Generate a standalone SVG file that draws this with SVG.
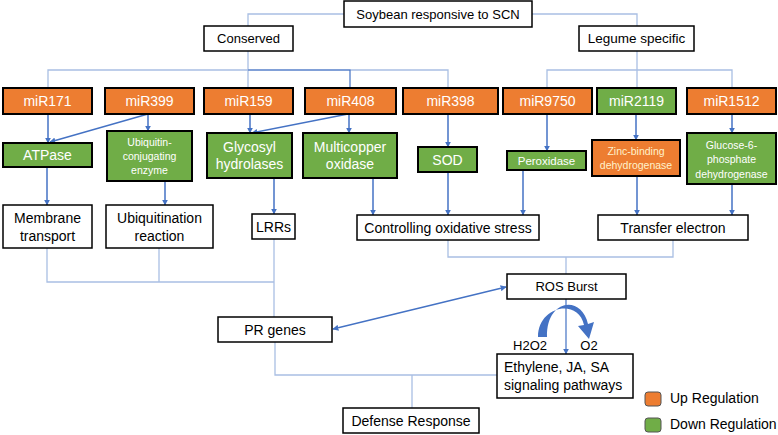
<svg xmlns="http://www.w3.org/2000/svg" width="778" height="435" viewBox="0 0 778 435">
<defs>
<style>
text{font-family:"Liberation Sans",Arial,sans-serif;text-anchor:middle;dominant-baseline:central}
.w{fill:#fff;stroke:#000;stroke-width:1.5}
.o{fill:#ED7D31;stroke:#000;stroke-width:2}
.g{fill:#70AD47;stroke:#000;stroke-width:2}
.t{font-size:13px;fill:#000}
.b{font-size:14px;fill:#000}
.m{font-size:14px;fill:#fff}
.s{font-size:10.5px;fill:#fff}
.lt{fill:none;stroke:#A9BFE3;stroke-width:1.3}
.dk{fill:none;stroke:#4472C4;stroke-width:1.5}
</style>
<marker id="ah" viewBox="0 0 10 10" refX="9" refY="5" markerWidth="6" markerHeight="6" orient="auto-start-reverse" markerUnits="userSpaceOnUse">
<path d="M0,0 L10,5 L0,10 z" fill="#4472C4"/>
</marker>
</defs>
<rect width="778" height="435" fill="#fff"/>

<g id="connectors">
<polyline class="lt" points="344,14 248,14 248,26"/>
<polyline class="lt" points="532,14 637,14 637,26"/>
<polyline class="lt" points="248,51 248,88"/>
<polyline class="lt" points="48,88 48,70 448,70 448,88"/>
<polyline class="dk" points="248,70 350,70 350,88" style="stroke-width:1.2"/>
<polyline class="lt" points="637,51 637,88"/>
<polyline class="lt" points="547,88 547,70 732,70 732,88"/>
<line class="dk" x1="48" y1="114" x2="48" y2="143" marker-end="url(#ah)"/>
<line class="dk" x1="148" y1="114" x2="50" y2="142" marker-end="url(#ah)"/>
<line class="dk" x1="148" y1="114" x2="148" y2="131" marker-end="url(#ah)"/>
<line class="dk" x1="250" y1="114" x2="250" y2="133" marker-end="url(#ah)"/>
<line class="dk" x1="348" y1="114" x2="252" y2="133" marker-end="url(#ah)"/>
<line class="dk" x1="349" y1="114" x2="349" y2="133" marker-end="url(#ah)"/>
<line class="dk" x1="448" y1="114" x2="448" y2="147" marker-end="url(#ah)"/>
<line class="dk" x1="547" y1="114" x2="547" y2="151" marker-end="url(#ah)"/>
<line class="dk" x1="636" y1="114" x2="636" y2="140" marker-end="url(#ah)"/>
<line class="dk" x1="732" y1="114" x2="732" y2="133" marker-end="url(#ah)"/>
<line class="dk" x1="47" y1="167" x2="47" y2="205" marker-end="url(#ah)"/>
<line class="dk" x1="165" y1="181" x2="165" y2="205" marker-end="url(#ah)"/>
<line class="dk" x1="274" y1="178" x2="274" y2="214" marker-end="url(#ah)"/>
<line class="dk" x1="373" y1="178" x2="373" y2="215" marker-end="url(#ah)"/>
<line class="dk" x1="448" y1="172" x2="448" y2="215" marker-end="url(#ah)"/>
<line class="dk" x1="523" y1="170" x2="523" y2="215" marker-end="url(#ah)"/>
<line class="dk" x1="637" y1="176" x2="637" y2="215" marker-end="url(#ah)"/>
<line class="dk" x1="732" y1="184" x2="732" y2="215" marker-end="url(#ah)"/>
<polyline class="lt" points="47,248 47,282 274,282"/>
<line class="lt" x1="159" y1="248" x2="159" y2="282"/>
<line class="lt" x1="274" y1="239" x2="274" y2="317"/>
<polyline class="lt" points="448,240 448,257 673,257 673,240"/>
<line class="lt" x1="566" y1="257" x2="566" y2="274"/>
<polyline class="lt" points="275,342 275,375 497,375"/>
<line class="lt" x1="412" y1="375" x2="412" y2="408"/>
<line class="dk" x1="333" y1="329" x2="506" y2="287" marker-start="url(#ah)" marker-end="url(#ah)" style="stroke-width:1.3"/>
<line class="dk" x1="566" y1="299" x2="566" y2="354" marker-end="url(#ah)" style="stroke-width:1.2"/>
<path d="M538,337 C538,306 578,298 584,325 L578,326 L589,339 L594,322 L588,324 C581,294 546,300 547,337 Z" fill="#4472C4"/>
</g>

<g id="n-soybean"><rect class="w" x="344" y="1" width="188" height="26"/><text class="t" x="438" y="14">Soybean responsive to SCN</text></g>
<g id="n-conserved"><rect class="w" x="204" y="26" width="89" height="25"/><text class="t" x="248.5" y="38.5">Conserved</text></g>
<g id="n-legume"><rect class="w" x="579" y="26" width="115" height="25"/><text class="t" x="636.5" y="38.5" style="font-size:13.5px">Legume specific</text></g>

<g id="n-miR171"><rect class="o" x="3" y="88" width="89" height="26"/><text class="m" x="47.5" y="101">miR171</text></g>
<g id="n-miR399"><rect class="o" x="105" y="88" width="89" height="26"/><text class="m" x="149.5" y="101">miR399</text></g>
<g id="n-miR159"><rect class="o" x="204" y="88" width="89" height="26"/><text class="m" x="248.5" y="101">miR159</text></g>
<g id="n-miR408"><rect class="o" x="305" y="88" width="91" height="26"/><text class="m" x="350.5" y="101">miR408</text></g>
<g id="n-miR398"><rect class="o" x="403" y="88" width="95" height="26"/><text class="m" x="450.5" y="101">miR398</text></g>
<g id="n-miR9750"><rect class="o" x="503" y="88" width="89" height="26"/><text class="m" x="547.5" y="101">miR9750</text></g>
<g id="n-miR2119"><rect class="g" x="597" y="88" width="79" height="26"/><text class="m" x="636.5" y="101">miR2119</text></g>
<g id="n-miR1512"><rect class="o" x="687" y="88" width="89" height="26"/><text class="m" x="731.5" y="101">miR1512</text></g>

<g id="n-atpase"><rect class="g" x="3" y="143" width="89" height="24"/><text class="m" x="47.5" y="155">ATPase</text></g>
<g id="n-ubiq-enzyme"><rect class="g" x="107" y="131" width="85" height="50"/><text class="s" x="149.5" y="142">Ubiquitin-</text><text class="s" x="149.5" y="156">conjugating</text><text class="s" x="149.5" y="170">enzyme</text></g>
<g id="n-glycosyl"><rect class="g" x="207" y="133" width="85" height="45"/><text class="m" x="249.5" y="147">Glycosyl</text><text class="m" x="249.5" y="164">hydrolases</text></g>
<g id="n-multicopper"><rect class="g" x="303" y="133" width="94" height="45"/><text class="m" x="350" y="147">Multicopper</text><text class="m" x="350" y="164">oxidase</text></g>
<g id="n-sod"><rect class="g" x="418" y="147" width="59" height="25"/><text class="m" x="447.5" y="159.5">SOD</text></g>
<g id="n-peroxidase"><rect class="g" x="507" y="151" width="79" height="19"/><text class="s" x="546.5" y="160.5" style="font-size:11.5px">Peroxidase</text></g>
<g id="n-zinc"><rect class="o" x="592" y="140" width="88" height="36"/><text class="s" x="636" y="151" style="fill:#FFF2CC">Zinc-binding</text><text class="s" x="636" y="165" style="fill:#FFF2CC">dehydrogenase</text></g>
<g id="n-glucose"><rect class="g" x="687" y="133" width="89" height="51"/><text class="s" x="731.5" y="145">Glucose-6-</text><text class="s" x="731.5" y="159">phosphate</text><text class="s" x="731.5" y="174">dehydrogenase</text></g>

<g id="n-membrane"><rect class="w" x="3" y="205" width="89" height="43"/><text class="b" x="47.5" y="218">Membrane</text><text class="b" x="47.5" y="236">transport</text></g>
<g id="n-ubiquitination"><rect class="w" x="106" y="205" width="107" height="43"/><text class="b" x="159.5" y="218">Ubiquitination</text><text class="b" x="159.5" y="236">reaction</text></g>
<g id="n-lrrs"><rect class="w" x="252" y="214" width="43" height="25"/><text class="b" x="273.5" y="226.5">LRRs</text></g>
<g id="n-controlling"><rect class="w" x="357" y="215" width="182" height="25"/><text class="b" x="448" y="227.5">Controlling oxidative stress</text></g>
<g id="n-transfer"><rect class="w" x="598" y="215" width="150" height="25"/><text class="b" x="673" y="227.5">Transfer electron</text></g>

<g id="n-ros"><rect class="w" x="507" y="274" width="119" height="25"/><text class="t" x="566.5" y="286.5">ROS Burst</text></g>
<g id="n-pr"><rect class="w" x="218" y="317" width="114" height="25"/><text class="b" x="275" y="329.5">PR genes</text></g>
<g id="n-h2o2"><text class="t" x="530" y="345">H2O2</text><text class="t" x="589" y="345">O2</text></g>
<g id="n-ethylene"><rect class="w" x="497" y="354" width="136" height="44"/><text class="b" x="504" y="367" style="text-anchor:start">Ethylene, JA, SA</text><text class="b" x="504" y="385" style="text-anchor:start">signaling pathways</text></g>
<g id="n-defense"><rect class="w" x="343" y="408" width="136" height="25"/><text class="b" x="411" y="420.5">Defense Response</text></g>

<g id="legend">
<rect x="645" y="392" width="16" height="14" rx="3" fill="#ED7D31" stroke="#555" stroke-width="1"/>
<text class="b" x="670" y="398" style="text-anchor:start">Up Regulation</text>
<rect x="645" y="418" width="16" height="14" rx="3" fill="#70AD47" stroke="#555" stroke-width="1"/>
<text class="b" x="670" y="424" style="text-anchor:start">Down Regulation</text>
</g>
</svg>
